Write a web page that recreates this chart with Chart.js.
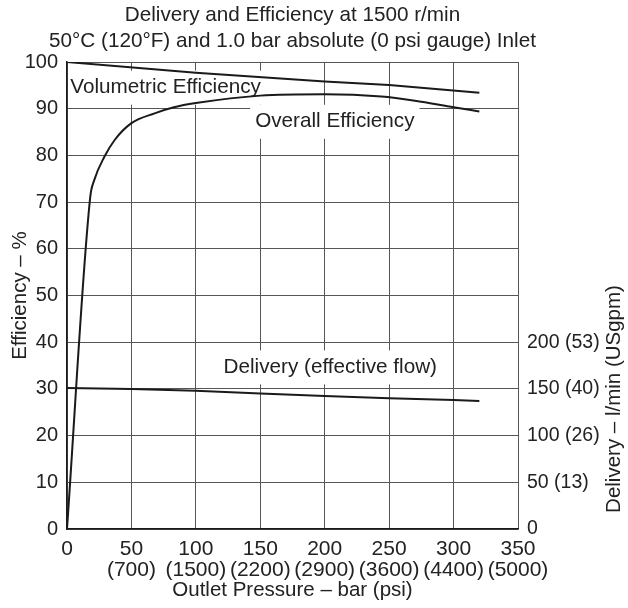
<!DOCTYPE html>
<html>
<head>
<meta charset="utf-8">
<script src="https://cdn.jsdelivr.net/npm/chart.js@4.4.1/dist/chart.umd.min.js"></script>
<style>
  html, body { margin: 0; padding: 0; background: #fff; }
</style>
</head>
<body>
<canvas id="pumpChart" width="628" height="608"></canvas>
<script>
// outlet pressure axis (bar) and psi equivalents
const pressureTicks = [0, 50, 100, 150, 200, 250, 300, 350];
const pressurePsi = ["", "(700)", "(1500)", "(2200)", "(2900)", "(3600)", "(4400)", "(5000)"];

// delivery axis, l/min and USgpm
const deliveryTicks = [0, 50, 100, 150, 200];
const deliveryGpm = ["", "(13)", "(26)", "(40)", "(53)"];

// volumetric efficiency (%)
const volPressure = [0, 100, 200, 250, 320];
const volEfficiency = [100, 97.7, 95.8, 95.1, 93.4];

// overall efficiency (%)
const overallPressure = [0, 18, 21, 29, 37, 50, 68, 83, 100, 150, 200, 244, 270, 300, 320];
const overallEfficiency = [0, 71, 74.6, 79.7, 83.3, 86.9, 89, 90.3, 91.2, 92.8, 93.1, 92.6, 91.7, 90.3, 89.4];

// delivery (l/min)
const deliveryPressure = [0, 50, 100, 150, 200, 250, 300, 320];
const deliveryFlow = [151, 150, 148, 145, 142.5, 140, 138, 137];

const FONT = '"Liberation Sans", Arial, Helvetica, sans-serif';
const INK = "#1a1a1a";
const GRID = "#555";

const titleLines = [
  "Delivery and Efficiency at 1500 r/min",
  "50°C (120°F) and 1.0 bar absolute (0 psi gauge) Inlet",
];
const rightTitle = "Delivery – l/min (USgpm)";

// in-plot labels, placed in data units of x / left y
const curveLabels = [
  { text: "Volumetric Efficiency", x: 2.6, y: 94.5 },
  { text: "Overall Efficiency", x: 146, y: 87.2 },
  { text: "Delivery (effective flow)", x: 121.5, y: 34.6 },
];

const toPoints = (xs, ys) => xs.map((x, i) => ({ x, y: ys[i] }));

const labelBoxes = {
  id: "labelBoxes",
  beforeDatasetsDraw(chart) {
    const { ctx, chartArea, scales } = chart;
    ctx.save();
    ctx.font = `20.7px ${FONT}`;
    ctx.textBaseline = "middle";
    curveLabels.forEach((l) => {
      const px = scales.x.getPixelForValue(l.x);
      const py = scales.y.getPixelForValue(l.y);
      const w = ctx.measureText(l.text).width;
      const left = Math.max(px - 5, chartArea.left + 1);
      ctx.fillStyle = "#fff";
      ctx.fillRect(left, py - 17, px + w + 5 - left, 34);
      ctx.fillStyle = "#222";
      ctx.fillText(l.text, px, py);
    });
    ctx.restore();
  },
  afterDraw(chart) {
    const { ctx, chartArea } = chart;
    ctx.save();
    ctx.fillStyle = "#222";
    ctx.font = `20.7px ${FONT}`;
    ctx.textAlign = "center";
    ctx.textBaseline = "alphabetic";
    const cx = (chartArea.left + chartArea.right) / 2;
    ctx.fillText(titleLines[0], cx, 21);
    ctx.fillText(titleLines[1], cx, 47);

    ctx.font = `20.5px ${FONT}`;
    ctx.translate(620, 399);
    ctx.rotate(-Math.PI / 2);
    ctx.fillText(rightTitle, 0, 0);
    ctx.restore();
  },
};

new Chart(document.getElementById("pumpChart"), {
  type: "line",
  data: {
    datasets: [
      {
        label: "Volumetric Efficiency",
        data: toPoints(volPressure, volEfficiency),
        yAxisID: "y",
      },
      {
        label: "Overall Efficiency",
        data: toPoints(overallPressure, overallEfficiency),
        yAxisID: "y",
        cubicInterpolationMode: "monotone",
      },
      {
        label: "Delivery (effective flow)",
        data: toPoints(deliveryPressure, deliveryFlow),
        yAxisID: "y2",
      },
    ],
  },
  options: {
    responsive: false,
    animation: false,
    layout: { padding: { top: 62 } },
    elements: {
      line: { borderColor: INK, borderWidth: 2, tension: 0, fill: false },
      point: { radius: 0 },
    },
    plugins: {
      legend: { display: false },
      tooltip: { enabled: false },
    },
    scales: {
      x: {
        type: "linear",
        min: 0,
        max: 350,
        afterFit: (s) => { s.height = 79; },
        afterBuildTicks: (s) => { s.ticks = pressureTicks.map((v) => ({ value: v })); },
        grid: { color: GRID, lineWidth: 1, drawTicks: false },
        border: { color: INK, width: 1.5 },
        ticks: {
          padding: 9,
          maxRotation: 0,
          autoSkip: false,
          color: "#222",
          font: { family: FONT, size: 21, lineHeight: 1.02 },
          callback: (value) => {
            const i = pressureTicks.indexOf(value);
            return i <= 0 ? String(value) : [String(value), pressurePsi[i]];
          },
        },
        title: {
          display: true,
          text: "Outlet Pressure – bar (psi)",
          color: "#222",
          font: { family: FONT, size: 20.5 },
          padding: { top: 0, bottom: 5 },
        },
      },
      y: {
        position: "left",
        min: 0,
        max: 100,
        afterFit: (s) => { s.width = 67; },
        grid: { color: GRID, lineWidth: 1, drawTicks: false },
        border: { color: INK, width: 1.5 },
        ticks: {
          stepSize: 10,
          padding: 9,
          color: "#222",
          font: { family: FONT, size: 20 },
        },
        title: {
          display: true,
          text: "Efficiency – %",
          color: "#222",
          font: { family: FONT, size: 20.5 },
          padding: { top: 8, bottom: 0 },
        },
      },
      y2: {
        position: "right",
        min: 0,
        max: 500,
        afterFit: (s) => { s.width = 110; },
        afterBuildTicks: (s) => { s.ticks = deliveryTicks.map((v) => ({ value: v })); },
        grid: { display: false, drawTicks: false },
        border: { display: false },
        ticks: {
          padding: 9,
          color: "#222",
          font: { family: FONT, size: 19.5 },
          callback: (value) => {
            const i = deliveryTicks.indexOf(value);
            return i <= 0 ? String(value) : `${value} ${deliveryGpm[i]}`;
          },
        },
      },
    },
  },
  plugins: [labelBoxes],
});
</script>
</body>
</html>
